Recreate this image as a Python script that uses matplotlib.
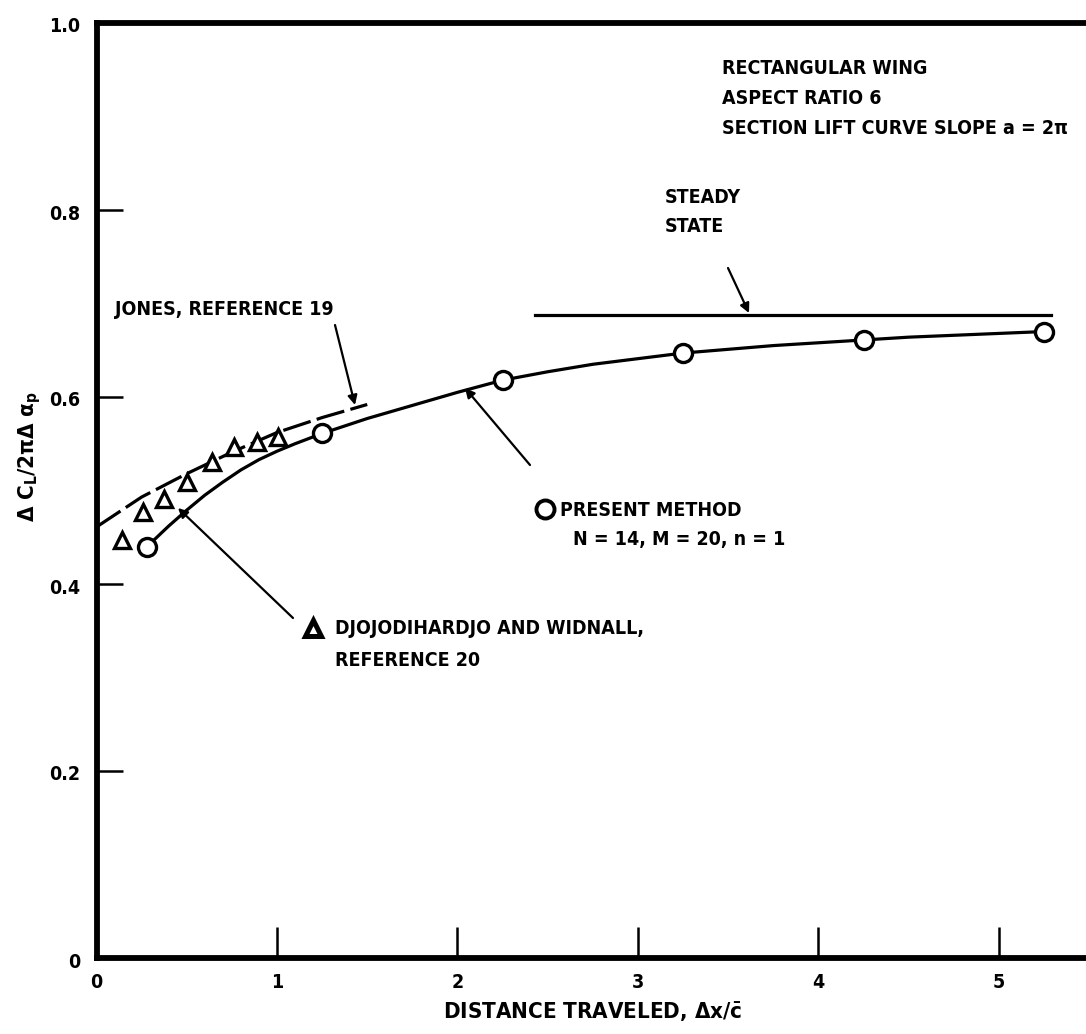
import matplotlib
matplotlib.use("Agg")
import matplotlib.pyplot as plt
from matplotlib import font_manager as fm

# ---- pick a condensed bold sans font if available ----
_fonts = [(f.name, f.stretch) for f in fm.fontManager.ttflist]
_names = {n for n, _ in _fonts}
STRETCH = 'normal'
SIZE = 14
if 'Liberation Sans Narrow' in _names:
    FONT = ['Liberation Sans Narrow', 'DejaVu Sans']
elif any(n == 'DejaVu Sans' and s in ('condensed', 'semi-condensed', 75, 87) for n, s in _fonts):
    FONT = ['DejaVu Sans']
    STRETCH = 'condensed'
elif 'Roboto Condensed' in _names:
    FONT = ['Roboto Condensed', 'DejaVu Sans']
else:
    FONT = ['Liberation Sans', 'DejaVu Sans']
    SIZE = 13.5

plt.rcParams['font.family'] = FONT
plt.rcParams['font.weight'] = 'bold'
plt.rcParams['font.stretch'] = STRETCH
plt.rcParams['mathtext.fontset'] = 'dejavusans'

# ---- data ----
present_x = [0.28, 1.25, 2.25, 3.25, 4.25, 5.25]
present_y = [0.440, 0.561, 0.618, 0.647, 0.661, 0.670]

curve_x = [0.28, 0.4, 0.5, 0.6, 0.7, 0.8, 0.9, 1.0, 1.1, 1.25, 1.5, 1.75,
           2.0, 2.25, 2.5, 2.75, 3.0, 3.25, 3.5, 3.75, 4.0, 4.25, 4.5,
           4.75, 5.0, 5.25]
curve_y = [0.440, 0.462, 0.479, 0.495, 0.509, 0.522, 0.533, 0.542, 0.550,
           0.561, 0.577, 0.591, 0.605, 0.618, 0.627, 0.635, 0.641, 0.647,
           0.651, 0.655, 0.658, 0.661, 0.664, 0.666, 0.668, 0.670]

djo_x = [0.14, 0.26, 0.376, 0.50, 0.64, 0.762, 0.89, 1.006]
djo_y = [0.447, 0.477, 0.491, 0.509, 0.530, 0.547, 0.552, 0.557]

jones_x = [0.0, 0.25, 0.5, 0.75, 1.0, 1.25, 1.5]
jones_y = [0.461, 0.493, 0.518, 0.541, 0.562, 0.578, 0.592]

steady_x = [2.43, 5.29]
steady_y = [0.688, 0.688]

x_ticks = [1, 2, 3, 4, 5]
y_ticks = [0.2, 0.4, 0.6, 0.8]
x_labels = ['0', '1', '2', '3', '4', '5']
y_labels = ['0', '0.2', '0.4', '0.6', '0.8', '1.0']

W, H = 1086, 1034
fig = plt.figure(figsize=(W / 100, H / 100), dpi=100)
ax = fig.add_axes([96.5 / W, 1 - 958 / H, (W - 96.5) / W, (958 - 23) / H])
ax.set_xlim(0, (W - 96.5) / 180.5)
ax.set_ylim(0, 1.0)

for s in ['left', 'top', 'bottom']:
    ax.spines[s].set_linewidth(4.2)
ax.spines['right'].set_visible(False)

ax.set_xticks(x_ticks)
ax.set_yticks(y_ticks)
ax.tick_params(axis='x', direction='in', length=22, width=1.8, labelbottom=False)
ax.tick_params(axis='y', direction='in', length=19, width=1.8, labelleft=False)

txt = dict(fontsize=SIZE, fontweight='bold', family=FONT, fontstretch=STRETCH, color='black')
for x, lab in zip([0] + x_ticks, x_labels):
    fig.text((96.5 + x * 180.5) / W, 1 - 983 / H, lab, ha='center', va='center', **txt)
for y, lab in zip([0] + y_ticks + [1.0], y_labels):
    fig.text(80 / W, 1 - (958 - y * 935 + 4) / H, lab, ha='right', va='center', **txt)

# curves
ax.plot(curve_x, curve_y, color='black', lw=2.3, zorder=2)
jl, = ax.plot(jones_x, jones_y, color='black', lw=2.3, zorder=2)
jl.set_dashes([9, 2])
ax.plot(steady_x, steady_y, color='black', lw=2.3, zorder=2)

ax.plot(present_x, present_y, 'o', ms=13, mfc='white', mec='black', mew=2.4, zorder=4,
        clip_on=False)
ax.plot(djo_x, djo_y, '^', ms=11, mfc='white', mec='black', mew=2.4, zorder=4)

# annotations
fig.text(722 / W, 1 - 68 / H, 'RECTANGULAR WING', ha='left', va='center', **txt)
fig.text(722 / W, 1 - 98 / H, 'ASPECT RATIO 6', ha='left', va='center', **txt)
fig.text(722 / W, 1 - 128 / H, 'SECTION LIFT CURVE SLOPE a = 2π', ha='left', va='center', **txt)

fig.text(665 / W, 1 - 198 / H, 'STEADY', ha='left', va='center', **txt)
fig.text(665 / W, 1 - 226 / H, 'STATE', ha='left', va='center', **txt)

fig.text(115 / W, 1 - 310 / H, 'JONES, REFERENCE 19', ha='left', va='center', **txt)

fig.text(560 / W, 1 - 510 / H, 'PRESENT METHOD', ha='left', va='center', **txt)
fig.text(573 / W, 1 - 540 / H, 'N = 14, M = 20, n = 1', ha='left', va='center', **txt)

fig.text(335 / W, 1 - 628 / H, 'DJOJODIHARDJO AND WIDNALL,', ha='left', va='center', **txt)
fig.text(335 / W, 1 - 660 / H, 'REFERENCE 20', ha='left', va='center', **txt)


def px2data(px, py):
    return ((px - 96.5) / 180.5, (958 - py) / 935)


sx, sy = px2data(545, 509)
ax.plot([sx], [sy], 'o', ms=13, mfc='white', mec='black', mew=2.8, zorder=4)
sx, sy = px2data(313, 628)
ax.plot([sx], [sy], '^', ms=11, mfc='white', mec='black', mew=3.6, zorder=4)

arrows = [((728, 268), (749, 313)),
          ((335, 325), (355, 405)),
          ((530, 465), (465, 388)),
          ((293, 618), (178, 508))]
for (x0, y0), (x1, y1) in arrows:
    ax.annotate('', xy=px2data(x1, y1), xytext=px2data(x0, y0),
                arrowprops=dict(arrowstyle='-|>', color='black', lw=1.6,
                                mutation_scale=14, shrinkA=0, shrinkB=0))

# axis labels
lab = dict(txt)
lab['fontsize'] = SIZE + 2
fig.text(30 / W, 1 - 457 / H, r'Δ $\mathbf{C}_\mathbf{L}$/2πΔ $\mathbf{\alpha}_\mathbf{p}$',
         rotation=90, ha='center', va='center', **lab)
fig.text(593 / W, 1 - 1012 / H, r'DISTANCE TRAVELED, Δx/$\bar{\mathbf{c}}$',
         ha='center', va='center', **lab)

fig.savefig('out.png', dpi=100)
